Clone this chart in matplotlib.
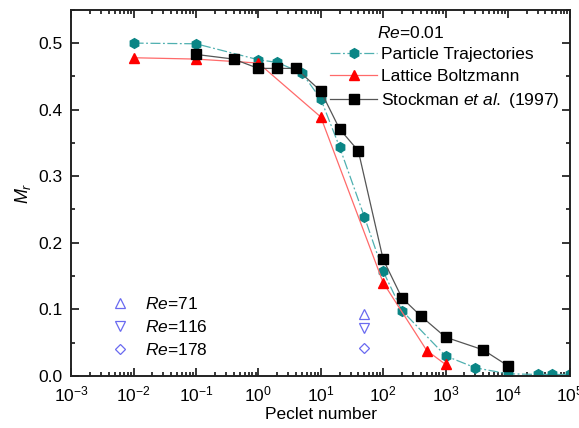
import matplotlib.pyplot as plt
from matplotlib.ticker import LogLocator, MultipleLocator, NullFormatter

plt.rcParams['font.family'] = ['Liberation Sans', 'DejaVu Sans']
plt.rcParams['mathtext.fontset'] = 'custom'
plt.rcParams['mathtext.rm'] = 'Liberation Sans'
plt.rcParams['mathtext.it'] = 'Liberation Sans:italic'

# Particle trajectories (Re=0.01)
pt_pe = [0.01, 0.1, 1, 2, 5, 10, 20, 50, 100, 200, 1000, 3000, 10000, 30000, 50000, 100000]
pt_mr = [0.500, 0.499, 0.475, 0.471, 0.455, 0.416, 0.344, 0.239, 0.157, 0.098, 0.030, 0.012, 0.003, 0.002, 0.002, 0.002]

# Lattice Boltzmann
lb_pe = [0.01, 0.1, 1, 10, 100, 500, 1000]
lb_mr = [0.478, 0.476, 0.470, 0.389, 0.140, 0.038, 0.017]

# Stockman et al. (1997)
st_pe = [0.1, 0.4, 1, 2, 4, 10, 20, 40, 100, 200, 400, 1000, 4000, 10000]
st_mr = [0.483, 0.476, 0.462, 0.462, 0.462, 0.428, 0.371, 0.338, 0.175, 0.117, 0.090, 0.058, 0.039, 0.015]

# higher Reynolds number points
re_labels = ['71', '116', '178']
re_markers = ['^', 'v', 'D']
re_pe = [50, 50, 50]
re_mr = [0.093, 0.072, 0.042]

teal = '#0a8585'
fs = 12.5
fig, ax = plt.subplots(figsize=(5.79, 4.28), dpi=100)
fig.subplots_adjust(left=0.123, right=0.985, top=0.977, bottom=0.122)

ax.plot(pt_pe, pt_mr, color='#4fb0b0', lw=0.9, ls=(0, (8, 2, 1.5, 2)),
        marker='h', ms=7, mfc=teal, mec=teal, label='Particle Trajectories')
ax.plot(lb_pe, lb_mr, color='#ff6a6a', lw=0.9, marker='^', ms=7.5,
        mfc='red', mec='red', label='Lattice Boltzmann')
ax.plot(st_pe, st_mr, color='#555555', lw=0.9, marker='s', ms=6.5,
        mfc='black', mec='black', label='Stockman $\\it{et\\ al.}$ (1997)')

re_handles = []
for lab, mk, pe, mr in zip(re_labels, re_markers, re_pe, re_mr):
    h, = ax.plot([pe], [mr], ls='none', marker=mk, ms=7 if mk != 'D' else 5.5,
                 mfc='none', mec='#6a6af0', mew=0.9, label=f'$Re$={lab}')
    re_handles.append(h)

ax.set_xscale('log')
ax.set_xlim(1e-3, 1e5)
ax.set_ylim(0, 0.55)
ax.xaxis.set_major_locator(LogLocator(base=10, numticks=20))
ax.xaxis.set_minor_locator(LogLocator(base=10, subs=range(2, 10), numticks=100))
ax.xaxis.set_minor_formatter(NullFormatter())
ax.yaxis.set_major_locator(MultipleLocator(0.1))
ax.yaxis.set_minor_locator(MultipleLocator(0.05))
ax.yaxis.set_major_formatter(plt.FuncFormatter(lambda v, p: f'{v:.1f}'))

ax.tick_params(which='both', direction='in', top=True, right=True, labelsize=fs, width=1.1)
ax.tick_params(which='major', length=6, pad=6)
ax.tick_params(which='minor', length=3)
for s in ax.spines.values():
    s.set_linewidth(1.4)
    s.set_color('#222222')

ax.set_xlabel('Peclet number', fontsize=fs, labelpad=2)
ax.set_ylabel('$M_r$', fontsize=13, labelpad=4)

h_main = ax.get_legend_handles_labels()[0][:3]
leg1 = ax.legend(handles=h_main, loc='upper right', bbox_to_anchor=(0.978, 0.899),
                 fontsize=fs, frameon=False, handlelength=2.7, handletextpad=0.2,
                 labelspacing=0.4, borderaxespad=0, borderpad=0)
ax.add_artist(leg1)
ax.text(0.613, 0.937, '$Re$=0.01', transform=ax.transAxes, fontsize=fs,
        ha='left', va='center')
ax.legend(handles=re_handles, loc='upper left', bbox_to_anchor=(0.076, 0.218), fontsize=fs,
          frameon=False, handlelength=1.2, handletextpad=0.85, labelspacing=0.4,
          borderaxespad=0, borderpad=0)

fig.savefig('out.png', dpi=100)
